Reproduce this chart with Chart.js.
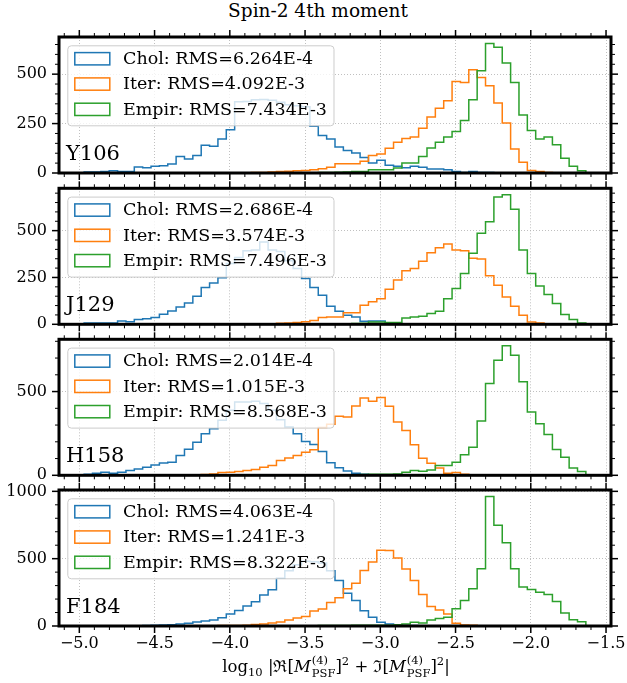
<!DOCTYPE html>
<html>
<head>
<meta charset="utf-8">
<script src="https://cdn.jsdelivr.net/npm/chart.js@4.4.1/dist/chart.umd.min.js"></script>
<style>
    body { margin: 0; background: #fff; width: 627px; height: 683px; position: relative; overflow: hidden; }
    canvas { position: absolute; left: 0; }
    #title { position: absolute; top: 2px; left: 318px; transform: translateX(-50%); white-space: nowrap;
             font: 18.5px "DejaVu Serif", serif; line-height: 1; color: #000; }
</style>
</head>
<body>
<div id="title">Spin-2 4th moment</div>
<script>
// histogram bins (shared by all panels)
const binLo = -4.968;
const binHi = -1.634;
const nBins = 60;

const bands = ['Y106', 'J129', 'H158', 'F184'];
const methods = ['Chol', 'Iter', 'Empir'];
const rms = [
    ['6.264E-4', '4.092E-3', '7.434E-3'],
    ['2.686E-4', '3.574E-3', '7.496E-3'],
    ['2.014E-4', '1.015E-3', '8.568E-3'],
    ['4.063E-4', '1.241E-3', '8.322E-3']
];

// counts per bin
const y106Chol = [5, 5, 8, 12, 8, 8, 30, 27, 34, 37, 45, 84, 71, 88, 140, 135, 172, 219, 360, 362,
    370, 372, 368, 358, 345, 340, 335, 236, 190, 172, 131, 114, 101, 79, 50, 64, 39, 34, 27, 34,
    29, 20, 20, 17, 8, 3, 8, 3, 2, 1, 0, 0, 0, 0, 0, 0, 0, 0, 0, 0];
const y106Iter = [0, 0, 0, 0, 0, 0, 0, 0, 0, 0, 0, 0, 0, 0, 0, 0, 0, 0, 0, 0,
    3, 3, 5, 7, 9, 11, 13, 16, 21, 29, 47, 47, 47, 59, 88, 96, 125, 155, 175, 182,
    227, 283, 327, 365, 463, 458, 522, 483, 441, 354, 253, 121, 54, 13, 8, 2, 0, 0, 0, 0];
const y106Empir = [0, 0, 0, 0, 0, 0, 0, 0, 0, 0, 0, 0, 0, 0, 0, 0, 0, 0, 0, 0,
    0, 0, 0, 0, 0, 0, 0, 0, 2, 3, 4, 5, 8, 8, 17, 17, 17, 25, 50, 50,
    84, 126, 155, 182, 210, 266, 370, 517, 655, 636, 556, 458, 293, 215, 172, 182, 143, 74, 34, 12];

const j129Chol = [7, 7, 7, 7, 18, 14, 25, 29, 36, 54, 71, 93, 114, 150, 196, 221, 248, 325, 357, 393,
    396, 439, 396, 388, 339, 298, 245, 196, 155, 96, 70, 48, 39, 16, 18, 18, 7, 4, 3, 2,
    1, 0, 0, 0, 0, 0, 0, 0, 0, 0, 0, 0, 0, 0, 0, 0, 0, 0, 0, 0];
const j129Iter = [0, 0, 0, 0, 0, 0, 0, 0, 0, 0, 0, 0, 0, 0, 0, 0, 0, 0, 0, 0,
    0, 0, 3, 5, 7, 10, 14, 20, 36, 39, 39, 61, 61, 102, 120, 137, 187, 236, 286, 298,
    337, 382, 409, 429, 396, 393, 352, 348, 259, 209, 146, 96, 48, 12, 7, 2, 0, 0, 0, 0];
const j129Empir = [0, 0, 0, 0, 0, 0, 0, 0, 0, 0, 0, 0, 0, 0, 0, 0, 0, 0, 0, 0,
    0, 0, 0, 0, 0, 0, 0, 0, 0, 0, 2, 3, 4, 5, 12, 12, 9, 9, 34, 39,
    43, 57, 70, 137, 191, 271, 379, 486, 548, 680, 692, 614, 396, 271, 204, 159, 111, 52, 25, 7];

const h158Chol = [6, 12, 18, 12, 18, 28, 38, 48, 62, 74, 78, 118, 156, 198, 248, 278, 328, 388, 438, 438,
    442, 428, 388, 332, 288, 248, 202, 184, 142, 75, 45, 25, 12, 6, 3, 2, 0, 0, 0, 0,
    0, 0, 0, 0, 0, 0, 0, 0, 0, 0, 0, 0, 0, 0, 0, 0, 0, 0, 0, 0];
const h158Iter = [0, 0, 0, 0, 0, 0, 0, 0, 0, 0, 3, 3, 3, 4, 5, 8, 16, 18, 22, 28,
    34, 48, 58, 88, 104, 118, 138, 152, 285, 305, 352, 348, 414, 462, 442, 464, 412, 318, 268, 182,
    102, 72, 44, 12, 16, 6, 4, 2, 0, 0, 0, 0, 0, 0, 0, 0, 0, 0, 0, 0];
const h158Empir = [0, 0, 0, 0, 0, 0, 0, 0, 0, 0, 0, 0, 0, 0, 0, 0, 0, 0, 0, 0,
    0, 0, 0, 0, 0, 0, 0, 0, 0, 0, 2, 3, 4, 5, 6, 6, 6, 8, 18, 28,
    24, 32, 58, 58, 78, 122, 168, 324, 548, 687, 773, 717, 558, 378, 308, 244, 154, 108, 44, 22];

const f184Chol = [0, 0, 0, 0, 0, 0, 0, 3, 5, 8, 10, 15, 20, 30, 38, 45, 62, 89, 115, 148,
    180, 230, 270, 355, 410, 455, 480, 478, 468, 410, 338, 244, 189, 114, 65, 27, 15, 10, 4, 3,
    2, 0, 0, 0, 0, 0, 0, 0, 0, 0, 0, 0, 0, 0, 0, 0, 0, 0, 0, 0];
const f184Iter = [0, 0, 0, 0, 0, 0, 0, 0, 0, 0, 0, 0, 0, 0, 0, 0, 3, 4, 4, 5,
    12, 15, 22, 30, 45, 60, 70, 112, 127, 175, 209, 276, 318, 413, 475, 562, 560, 505, 423, 338,
    234, 144, 119, 90, 20, 7, 5, 2, 0, 0, 0, 0, 0, 0, 0, 0, 0, 0, 0, 0];
const f184Empir = [0, 0, 0, 0, 0, 0, 0, 0, 0, 0, 0, 0, 0, 0, 0, 0, 0, 0, 0, 0,
    0, 0, 0, 0, 0, 0, 2, 2, 3, 3, 4, 4, 5, 5, 5, 5, 5, 10, 15, 27,
    22, 45, 55, 65, 129, 189, 276, 425, 962, 749, 619, 425, 289, 271, 251, 234, 182, 97, 47, 32];

const counts = [
    [y106Chol, y106Iter, y106Empir],
    [j129Chol, j129Iter, j129Empir],
    [h158Chol, h158Iter, h158Empir],
    [f184Chol, f184Iter, f184Empir]
];

// axes
const xMin = -5.135;
const xMax = -1.467;
const xTicks = [-5.0, -4.5, -4.0, -3.5, -3.0, -2.5, -2.0, -1.5];
const yTicks = [[0, 250, 500], [0, 250, 500], [0, 500], [0, 500, 1000]];
const yMinorStep = [50, 50, 100, 100];
const yMax = [688, 726, 812, 1010];

const colors = ['#1f77b4', '#ff7f0e', '#2ca02c'];
const panelTop = [37, 188.3, 339.3, 490];
const panelH = 136;
const plotLeft = 59;
const plotRight = 611;
const serif = '"DejaVu Serif", serif';

Chart.defaults.font.family = serif;
Chart.defaults.color = '#000';

let binEdges = [];
for (let i = 0; i <= nBins; i++) {
    binEdges.push(binLo + (binHi - binLo) * i / nBins);
}

function stepPoints(vals) {
    let pts = [{ x: binEdges[0], y: 0 }];
    for (let i = 0; i < vals.length; i++) {
        pts.push({ x: binEdges[i], y: vals[i] });
    }
    pts.push({ x: binEdges[vals.length], y: 0 });
    return pts;
}

function fmtX(v) {
    return (v < 0 ? '\u2212' : '') + Math.abs(v).toFixed(1);
}

function line(ctx, x1, y1, x2, y2) {
    ctx.beginPath();
    ctx.moveTo(x1, y1);
    ctx.lineTo(x2, y2);
    ctx.stroke();
}

function drawXLabel(ctx, cx, baseline) {
    const big = 16.5, small = 11.5;
    const fN = big + 'px ' + serif, fI = 'italic ' + big + 'px ' + serif, fS = small + 'px ' + serif;
    const pieces = [
        ['log', fN, 0], ['10', fS, 4], [' |\u211C[', fN, 0], ['M', fI, 0], [['(4)', 'PSF'], fS, 0],
        [']', fN, 0], ['2', fS, -7], [' + \u2111[', fN, 0], ['M', fI, 0], [['(4)', 'PSF'], fS, 0],
        [']', fN, 0], ['2', fS, -7], ['|', fN, 0]
    ];
    let widths = pieces.map(p => {
        ctx.font = p[1];
        if (Array.isArray(p[0])) return Math.max(ctx.measureText(p[0][0]).width, ctx.measureText(p[0][1]).width) + 1;
        return ctx.measureText(p[0]).width;
    });
    let total = widths.reduce((a, b) => a + b, 0);
    let x = cx - total / 2;
    ctx.fillStyle = '#000';
    ctx.textAlign = 'left';
    ctx.textBaseline = 'alphabetic';
    pieces.forEach((p, i) => {
        ctx.font = p[1];
        if (Array.isArray(p[0])) {
            ctx.fillText(p[0][0], x + 1, baseline - 8);
            ctx.fillText(p[0][1], x + 1, baseline + 4.5);
        } else {
            ctx.fillText(p[0], x, baseline + p[2]);
        }
        x += widths[i];
    });
}

const panelPlugin = {
    id: 'panel',
    afterDatasetsDraw(chart, args, opts) {
        const ctx = chart.ctx;
        const { left, top, bottom } = chart.chartArea;
        const p = opts.index;
        // legend
        const fs = 17.5;
        ctx.save();
        ctx.font = fs + 'px ' + serif;
        const labels = methods.map((m, k) => m + ': RMS=' + rms[p][k]);
        const tw = Math.max(...labels.map(l => ctx.measureText(l).width));
        const bx = left + 8.8, by = top + 8.8, bw = 55.2 + tw + 7, bh = 80;
        ctx.beginPath();
        ctx.roundRect(bx, by, bw, bh, 3.5);
        ctx.fillStyle = 'rgba(255,255,255,0.8)';
        ctx.fill();
        ctx.strokeStyle = '#cccccc';
        ctx.lineWidth = 1;
        ctx.stroke();
        labels.forEach((l, k) => {
            const cy = by + 12.8 + k * 25.3;
            ctx.strokeStyle = colors[k];
            ctx.lineWidth = 1.5;
            ctx.strokeRect(bx + 7, cy - 6, 35, 12.3);
            ctx.fillStyle = '#000';
            ctx.textBaseline = 'middle';
            ctx.fillText(l, bx + 55.2, cy + 1);
        });
        // band name
        ctx.font = '21px ' + serif;
        ctx.textBaseline = 'alphabetic';
        ctx.fillText(bands[p], left + 7, bottom - 13.5);
        ctx.restore();
    },
    afterDraw(chart, args, opts) {
        const ctx = chart.ctx;
        const { left, right, top, bottom } = chart.chartArea;
        const p = opts.index;
        const xs = chart.scales.x, ys = chart.scales.y;
        ctx.save();
        ctx.strokeStyle = '#000';
        // minor ticks
        ctx.lineWidth = 1;
        for (let k = -52; k <= -14; k++) {
            const v = k / 10;
            if (k % 5 === 0 || v < xMin || v > xMax) continue;
            const px = xs.getPixelForValue(v);
            line(ctx, px, bottom, px, bottom + 4);
            line(ctx, px, top, px, top - 4);
        }
        for (let v = 0; v <= yMax[p]; v += yMinorStep[p]) {
            if (yTicks[p].includes(v)) continue;
            const py = ys.getPixelForValue(v);
            line(ctx, left, py, left - 4, py);
            line(ctx, right, py, right + 4, py);
        }
        // major ticks
        ctx.lineWidth = 1.5;
        xTicks.forEach(v => {
            const px = xs.getPixelForValue(v);
            line(ctx, px, bottom, px, bottom + 7);
            line(ctx, px, top, px, top - 7);
        });
        yTicks[p].forEach(v => {
            const py = ys.getPixelForValue(v);
            line(ctx, left, py, left - 7, py);
            line(ctx, right, py, right + 7, py);
        });
        // frame
        ctx.lineWidth = 3;
        ctx.strokeRect(left, top, right - left, bottom - top);
        if (opts.last) drawXLabel(ctx, 336, bottom + 46);
        ctx.restore();
    }
};

for (let p = 0; p < 4; p++) {
    const last = p === 3;
    const canvasTop = Math.floor(panelTop[p] - 12);
    const padTop = panelTop[p] - canvasTop;
    const canvasH = last ? 683 - canvasTop : Math.ceil(padTop + panelH + 12);
    const xAxisH = canvasH - padTop - panelH;

    const canvas = document.createElement('canvas');
    canvas.width = 627;
    canvas.height = canvasH;
    canvas.style.top = canvasTop + 'px';
    document.body.appendChild(canvas);

    new Chart(canvas, {
        type: 'line',
        data: {
            datasets: methods.map((m, k) => ({
                label: m + ': RMS=' + rms[p][k],
                data: stepPoints(counts[p][k]),
                borderColor: colors[k],
                borderWidth: 1.5,
                pointRadius: 0,
                fill: false,
                stepped: true,
                order: 3 - k
            }))
        },
        options: {
            responsive: false,
            animation: false,
            events: [],
            layout: { padding: { top: padTop, right: 627 - plotRight, left: 0, bottom: 0 } },
            plugins: {
                legend: { display: false },
                tooltip: { enabled: false },
                panel: { index: p, last: last }
            },
            scales: {
                x: {
                    type: 'linear',
                    min: xMin,
                    max: xMax,
                    afterBuildTicks: s => { s.ticks = xTicks.map(v => ({ value: v })); },
                    afterFit: s => { s.height = xAxisH; s.paddingLeft = 0; s.paddingRight = 0; },
                    ticks: { display: last, padding: 8.5, font: { size: 16 }, color: '#000', callback: v => fmtX(v) },
                    grid: { color: '#b0b0b0', lineWidth: 0.8, drawTicks: false },
                    border: { display: false, dash: [1, 2] }
                },
                y: {
                    type: 'linear',
                    min: 0,
                    max: yMax[p],
                    afterBuildTicks: s => { s.ticks = yTicks[p].map(v => ({ value: v })); },
                    afterFit: s => { s.width = plotLeft; s.paddingTop = 0; s.paddingBottom = 0; },
                    ticks: { padding: 12, font: { size: 16 }, color: '#000', callback: v => String(v) },
                    grid: { color: '#b0b0b0', lineWidth: 0.8, drawTicks: false },
                    border: { display: false, dash: [1, 2] }
                }
            }
        },
        plugins: [panelPlugin]
    });
}
</script>
</body>
</html>
